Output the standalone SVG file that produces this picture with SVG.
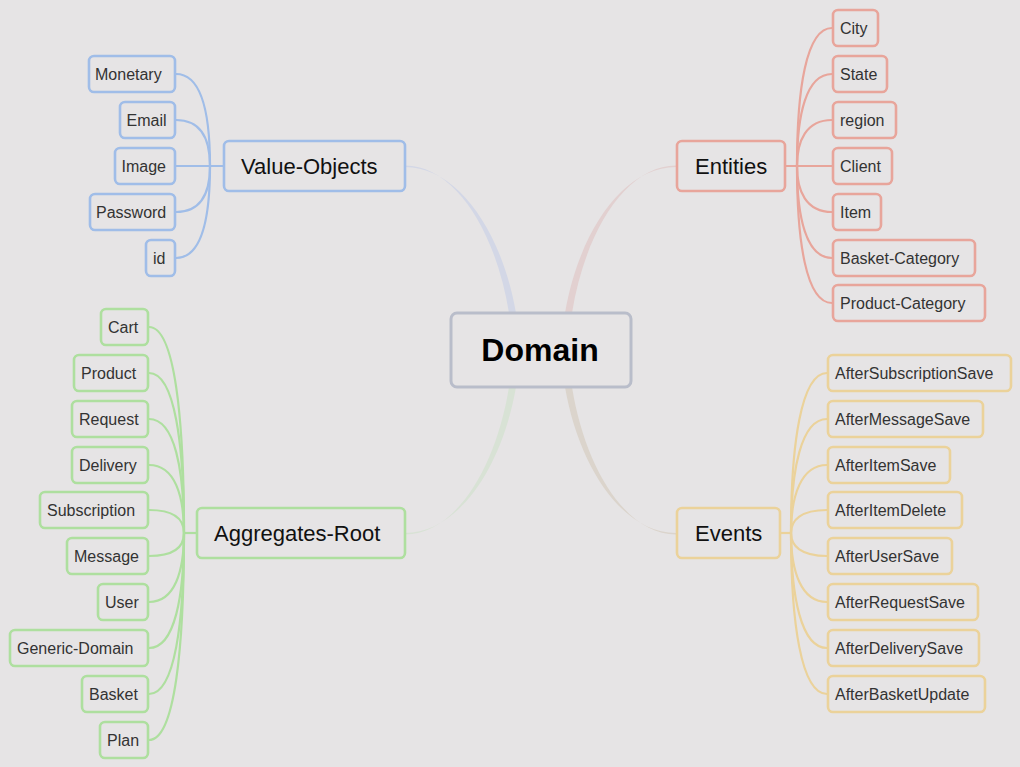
<svg xmlns="http://www.w3.org/2000/svg" width="1020" height="767" viewBox="0 0 1020 767">
<style>
.bg{fill:#e6e4e5}
.box{fill:none;stroke-width:2.6}
.c{fill:none;stroke-width:2.2}
.blue{stroke:#a0bde8}
.red{stroke:#e8a59b}
.green{stroke:#aedf9f}
.tan{stroke:#ebd29a}
.t{font-family:"Liberation Sans",Arial,sans-serif;font-size:16px;fill:#333}
.p{font-family:"Liberation Sans",Arial,sans-serif;font-size:22px;fill:#111}
.d{font-family:"Liberation Sans",Arial,sans-serif;font-size:32px;font-weight:bold;fill:#000}
</style>
<rect class="bg" x="0" y="0" width="1020" height="767"/>
<g id="connectors">
<path d="M405,165.5 C455,165.5 496,232 509,313 L516,313 C502,232 458,167 405,167 Z" fill="#d3d7e6"/>
<path d="M676,165.5 C626,165.5 585,232 572,313 L565,313 C579,232 623,167 676,167 Z" fill="#e2d0d0"/>
<path d="M405,534.5 C455,534.5 496,468 509,387 L516,387 C502,468 458,533 405,533 Z" fill="#d8e2d5"/>
<path d="M676,534.5 C626,534.5 585,468 572,387 L565,387 C579,468 623,533 676,533 Z" fill="#dbd4cc"/>
<g class="c blue">
<path d="M176,74 C202,74 210,115 210,166"/>
<path d="M176,120 C202,120 210,141 210,166"/>
<path d="M176,166 L224,166"/>
<path d="M176,212 C202,212 210,191 210,166"/>
<path d="M176,258 C202,258 210,217 210,166"/>
</g>
<g class="c red">
<path d="M785,166 L832,166"/>
<path d="M832,28 C806,28 797,90 797,166"/>
<path d="M832,74 C806,74 797,115 797,166"/>
<path d="M832,120 C806,120 797,141 797,166"/>
<path d="M832,212 C806,212 797,191 797,166"/>
<path d="M832,258 C806,258 797,217 797,166"/>
<path d="M832,303 C806,303 797,241 797,166"/>
</g>
<g class="c green">
<path d="M184,533 L197,533"/>
<path d="M149,327 C175,327 184,420 184,533"/>
<path d="M149,373 C175,373 184,445 184,533"/>
<path d="M149,419 C175,419 184,470 184,533"/>
<path d="M149,465 C175,465 184,496 184,533"/>
<path d="M149,510 C175,510 184,520 184,533"/>
<path d="M149,556 C175,556 184,546 184,533"/>
<path d="M149,602 C175,602 184,571 184,533"/>
<path d="M149,648 C175,648 184,596 184,533"/>
<path d="M149,694 C175,694 184,622 184,533"/>
<path d="M149,740 C175,740 184,647 184,533"/>
</g>
<g class="c tan">
<path d="M780,533 L791,533"/>
<path d="M827,373 C801,373 791,445 791,533"/>
<path d="M827,419 C801,419 791,470 791,533"/>
<path d="M827,465 C801,465 791,496 791,533"/>
<path d="M827,510 C801,510 791,520 791,533"/>
<path d="M827,556 C801,556 791,546 791,533"/>
<path d="M827,602 C801,602 791,571 791,533"/>
<path d="M827,648 C801,648 791,596 791,533"/>
<path d="M827,694 C801,694 791,622 791,533"/>
</g>
</g>
<g id="domain"><rect x="451" y="313" width="180" height="74" rx="6" fill="#e6e4e5" stroke="#b9bdca" stroke-width="3"/><text class="d" x="540" y="361" text-anchor="middle">Domain</text></g>
<g id="value-objects"><rect class="box blue" x="224" y="141" width="181" height="50" rx="5"/><text class="p" x="241" y="174">Value-Objects</text></g>
<g id="entities"><rect class="box red" x="677" y="141" width="108" height="50" rx="5"/><text class="p" x="695" y="174">Entities</text></g>
<g id="aggregates-root"><rect class="box green" x="197" y="508" width="208" height="50" rx="5"/><text class="p" x="214" y="541">Aggregates-Root</text></g>
<g id="events"><rect class="box tan" x="677" y="508" width="103" height="50" rx="5"/><text class="p" x="695" y="541">Events</text></g>
<g id="monetary"><rect class="box blue" x="89" y="56" width="86" height="36" rx="5"/><text class="t" x="95" y="79.5">Monetary</text></g>
<g id="email"><rect class="box blue" x="120" y="102" width="55" height="36" rx="5"/><text class="t" x="126.5" y="125.5">Email</text></g>
<g id="image"><rect class="box blue" x="115" y="148" width="60" height="36" rx="5"/><text class="t" x="121.5" y="171.5">Image</text></g>
<g id="password"><rect class="box blue" x="90" y="194" width="85" height="36" rx="5"/><text class="t" x="96" y="217.5">Password</text></g>
<g id="id"><rect class="box blue" x="146" y="240" width="29" height="36" rx="5"/><text class="t" x="153" y="263.5">id</text></g>
<g id="city"><rect class="box red" x="833" y="10" width="45" height="36" rx="5"/><text class="t" x="840" y="33.5">City</text></g>
<g id="state"><rect class="box red" x="833" y="56" width="54" height="36" rx="5"/><text class="t" x="840" y="79.5">State</text></g>
<g id="region"><rect class="box red" x="833" y="102" width="63" height="36" rx="5"/><text class="t" x="840" y="125.5">region</text></g>
<g id="client"><rect class="box red" x="833" y="148" width="59" height="36" rx="5"/><text class="t" x="840" y="171.5">Client</text></g>
<g id="item"><rect class="box red" x="833" y="194" width="48" height="36" rx="5"/><text class="t" x="840" y="217.5">Item</text></g>
<g id="basket-category"><rect class="box red" x="833" y="240" width="142" height="36" rx="5"/><text class="t" x="840" y="263.5">Basket-Category</text></g>
<g id="product-category"><rect class="box red" x="833" y="285" width="152" height="36" rx="5"/><text class="t" x="840" y="308.5">Product-Category</text></g>
<g id="cart"><rect class="box green" x="101" y="309" width="47" height="36" rx="5"/><text class="t" x="108" y="332.5">Cart</text></g>
<g id="product"><rect class="box green" x="74" y="355" width="74" height="36" rx="5"/><text class="t" x="81" y="378.5">Product</text></g>
<g id="request"><rect class="box green" x="72" y="401" width="76" height="36" rx="5"/><text class="t" x="79" y="424.5">Request</text></g>
<g id="delivery"><rect class="box green" x="72" y="447" width="76" height="36" rx="5"/><text class="t" x="79" y="470.5">Delivery</text></g>
<g id="subscription"><rect class="box green" x="40" y="492" width="108" height="36" rx="5"/><text class="t" x="47" y="515.5">Subscription</text></g>
<g id="message"><rect class="box green" x="67" y="538" width="81" height="36" rx="5"/><text class="t" x="74" y="561.5">Message</text></g>
<g id="user"><rect class="box green" x="98" y="584" width="50" height="36" rx="5"/><text class="t" x="105" y="607.5">User</text></g>
<g id="generic-domain"><rect class="box green" x="10" y="630" width="138" height="36" rx="5"/><text class="t" x="17" y="653.5">Generic-Domain</text></g>
<g id="basket"><rect class="box green" x="82" y="676" width="66" height="36" rx="5"/><text class="t" x="89" y="699.5">Basket</text></g>
<g id="plan"><rect class="box green" x="100" y="722" width="48" height="36" rx="5"/><text class="t" x="107" y="745.5">Plan</text></g>
<g id="aftersubscriptionsave"><rect class="box tan" x="828" y="355" width="183" height="36" rx="5"/><text class="t" x="835" y="378.5">AfterSubscriptionSave</text></g>
<g id="aftermessagesave"><rect class="box tan" x="828" y="401" width="155" height="36" rx="5"/><text class="t" x="835" y="424.5">AfterMessageSave</text></g>
<g id="afteritemsave"><rect class="box tan" x="828" y="447" width="122" height="36" rx="5"/><text class="t" x="835" y="470.5">AfterItemSave</text></g>
<g id="afteritemdelete"><rect class="box tan" x="828" y="492" width="134" height="36" rx="5"/><text class="t" x="835" y="515.5">AfterItemDelete</text></g>
<g id="afterusersave"><rect class="box tan" x="828" y="538" width="124" height="36" rx="5"/><text class="t" x="835" y="561.5">AfterUserSave</text></g>
<g id="afterrequestsave"><rect class="box tan" x="828" y="584" width="150" height="36" rx="5"/><text class="t" x="835" y="607.5">AfterRequestSave</text></g>
<g id="afterdeliverysave"><rect class="box tan" x="828" y="630" width="151" height="36" rx="5"/><text class="t" x="835" y="653.5">AfterDeliverySave</text></g>
<g id="afterbasketupdate"><rect class="box tan" x="828" y="676" width="157" height="36" rx="5"/><text class="t" x="835" y="699.5">AfterBasketUpdate</text></g>
</svg>
